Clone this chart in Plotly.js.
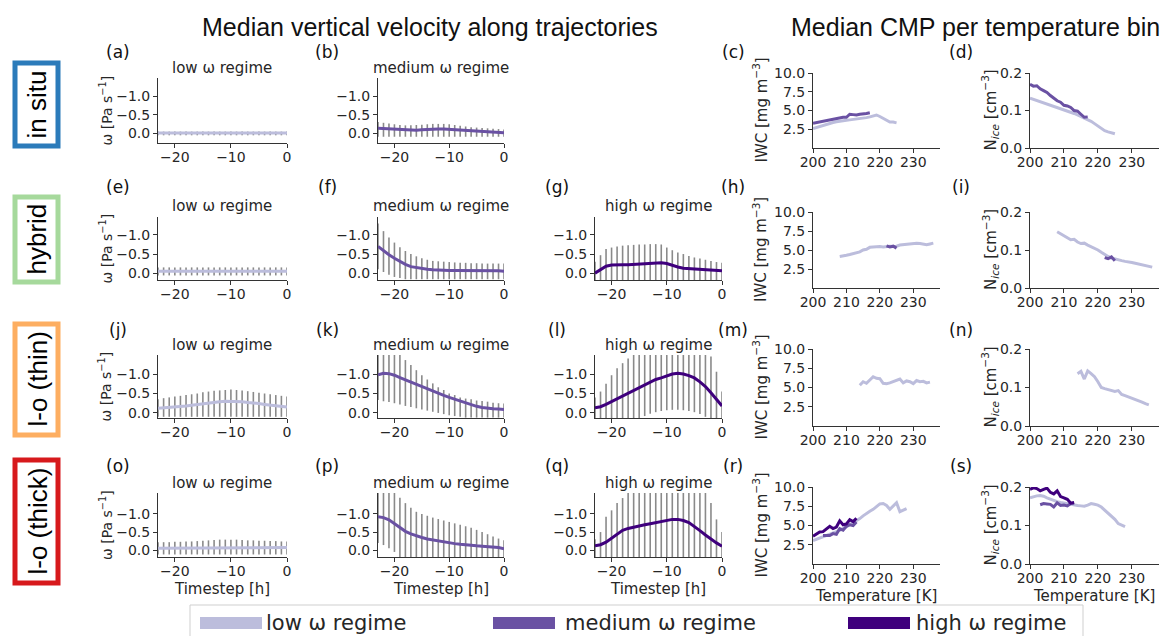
<!DOCTYPE html>
<html><head><meta charset="utf-8">
<script src="https://cdn.plot.ly/plotly-3.0.1.min.js"></script>
<style>html,body{margin:0;padding:0;background:#fff}#chart{width:1168px;height:636px}</style>
</head><body><div id="chart"></div>
<script>
// ---------------- DATA ----------------
const hours = [-23,-22,-21,-20,-19,-18,-17,-16,-15,-14,-13,-12,-11,-10,-9,-8,-7,-6,-5,-4,-3,-2,-1,0];
const regimeNames = ['low ω regime','medium ω regime','high ω regime'];
const rowNames = ['in situ','hybrid','l-o (thin)','l-o (thick)'];

// (a) in situ, low
const insituLowMed = [0,0,0,0,0,0,0,0,0,0,0,0,0,0,0,0,0,0,0,0,0,0,0,0];
const insituLowLo  = [-0.04,-0.04,-0.04,-0.04,-0.04,-0.04,-0.04,-0.04,-0.04,-0.04,-0.04,-0.04,-0.04,-0.04,-0.04,-0.04,-0.04,-0.04,-0.04,-0.04,-0.04,-0.04,-0.04,-0.04];
const insituLowHi  = [0.06,0.06,0.06,0.06,0.06,0.06,0.06,0.06,0.06,0.06,0.06,0.06,0.06,0.06,0.06,0.06,0.06,0.06,0.06,0.06,0.06,0.06,0.06,0.06];
// (b) in situ, medium
const insituMedMed = [-0.13,-0.12,-0.11,-0.10,-0.09,-0.08,-0.08,-0.08,-0.09,-0.10,-0.10,-0.11,-0.11,-0.10,-0.09,-0.08,-0.07,-0.06,-0.05,-0.04,-0.03,-0.02,-0.01,-0.01];
const insituMedLo  = [-0.30,-0.28,-0.26,-0.24,-0.22,-0.21,-0.21,-0.22,-0.23,-0.24,-0.25,-0.25,-0.25,-0.24,-0.22,-0.20,-0.18,-0.16,-0.15,-0.14,-0.13,-0.12,-0.11,-0.10];
const insituMedHi  = [0.10,0.10,0.10,0.10,0.10,0.10,0.10,0.10,0.10,0.10,0.10,0.10,0.10,0.10,0.10,0.10,0.10,0.10,0.10,0.10,0.10,0.10,0.10,0.10];
// (e) hybrid, low
const hybridLowMed = [-0.05,-0.05,-0.05,-0.05,-0.05,-0.05,-0.05,-0.05,-0.05,-0.05,-0.05,-0.05,-0.05,-0.05,-0.05,-0.05,-0.05,-0.05,-0.05,-0.05,-0.05,-0.05,-0.05,-0.05];
const hybridLowLo  = [-0.15,-0.15,-0.15,-0.15,-0.15,-0.15,-0.15,-0.15,-0.15,-0.15,-0.15,-0.15,-0.15,-0.15,-0.15,-0.15,-0.15,-0.15,-0.15,-0.15,-0.15,-0.15,-0.15,-0.15];
const hybridLowHi  = [0.06,0.06,0.06,0.06,0.06,0.06,0.06,0.06,0.06,0.06,0.06,0.06,0.06,0.06,0.06,0.06,0.06,0.06,0.06,0.06,0.06,0.06,0.06,0.06];
// (f) hybrid, medium
const hybridMedMed = [-0.70,-0.58,-0.48,-0.39,-0.30,-0.23,-0.17,-0.14,-0.12,-0.10,-0.09,-0.08,-0.08,-0.07,-0.07,-0.07,-0.06,-0.06,-0.06,-0.06,-0.06,-0.06,-0.06,-0.05];
const hybridMedLo  = [-1.30,-1.10,-0.93,-0.80,-0.68,-0.58,-0.50,-0.44,-0.39,-0.35,-0.32,-0.31,-0.30,-0.29,-0.28,-0.27,-0.27,-0.26,-0.26,-0.25,-0.25,-0.25,-0.25,-0.25];
const hybridMedHi  = [-0.10,-0.03,0.04,0.10,0.13,0.16,0.16,0.16,0.16,0.16,0.16,0.16,0.16,0.16,0.16,0.16,0.16,0.16,0.16,0.16,0.16,0.16,0.16,0.16];
// (g) hybrid, high
const hybridHighMed = [0.0,-0.10,-0.18,-0.21,-0.22,-0.22,-0.22,-0.23,-0.24,-0.25,-0.26,-0.27,-0.27,-0.25,-0.20,-0.16,-0.13,-0.12,-0.11,-0.10,-0.09,-0.08,-0.07,-0.06];
const hybridHighLo  = [-0.30,-0.47,-0.63,-0.67,-0.70,-0.72,-0.73,-0.74,-0.75,-0.75,-0.76,-0.76,-0.75,-0.67,-0.60,-0.54,-0.50,-0.45,-0.41,-0.38,-0.35,-0.32,-0.29,-0.27];
const hybridHighHi  = [0.2,0.2,0.2,0.2,0.2,0.2,0.2,0.2,0.2,0.2,0.2,0.2,0.2,0.2,0.2,0.2,0.2,0.2,0.2,0.2,0.2,0.2,0.2,0.2];
// (j) l-o thin, low
const thinLowMed = [-0.12,-0.13,-0.14,-0.15,-0.16,-0.18,-0.20,-0.22,-0.24,-0.26,-0.27,-0.29,-0.30,-0.30,-0.30,-0.29,-0.27,-0.26,-0.24,-0.22,-0.20,-0.18,-0.16,-0.15];
const thinLowLo  = [-0.35,-0.38,-0.40,-0.42,-0.44,-0.46,-0.48,-0.50,-0.53,-0.55,-0.57,-0.58,-0.59,-0.60,-0.59,-0.58,-0.56,-0.54,-0.52,-0.50,-0.48,-0.46,-0.44,-0.42];
const thinLowHi  = [0.1,0.1,0.1,0.1,0.1,0.1,0.1,0.1,0.1,0.1,0.1,0.1,0.1,0.1,0.1,0.1,0.1,0.1,0.1,0.1,0.1,0.1,0.1,0.1];
// (k) l-o thin, medium
const thinMedMed = [-0.98,-1.02,-1.01,-0.97,-0.91,-0.85,-0.79,-0.73,-0.67,-0.62,-0.56,-0.50,-0.45,-0.40,-0.35,-0.30,-0.25,-0.21,-0.17,-0.14,-0.12,-0.11,-0.10,-0.09];
const thinMedLo  = [-1.7,-1.7,-1.7,-1.7,-1.7,-1.36,-1.23,-1.10,-0.97,-0.86,-0.76,-0.66,-0.59,-0.50,-0.46,-0.40,-0.37,-0.35,-0.32,-0.31,-0.29,-0.26,-0.25,-0.24];
const thinMedHi  = [-0.33,-0.30,-0.28,-0.25,-0.22,-0.18,-0.15,-0.12,-0.09,-0.06,-0.03,0.0,0.03,0.06,0.08,0.10,0.12,0.12,0.12,0.12,0.12,0.12,0.12,0.12];
// (l) l-o thin, high
const thinHighMed = [-0.13,-0.16,-0.22,-0.29,-0.37,-0.44,-0.52,-0.59,-0.66,-0.73,-0.80,-0.86,-0.90,-0.95,-1.00,-1.02,-1.00,-0.96,-0.90,-0.80,-0.68,-0.52,-0.36,-0.18];
const thinHighLo  = [-0.40,-0.55,-0.75,-0.97,-1.15,-1.28,-1.40,-1.7,-1.7,-1.7,-1.7,-1.7,-1.7,-1.7,-1.7,-1.7,-1.7,-1.7,-1.7,-1.7,-1.7,-1.45,-1.06,-0.55];
const thinHighHi  = [0.2,0.2,0.2,0.2,0.2,0.2,0.2,0.2,0.2,0.08,0.02,-0.02,-0.05,-0.07,-0.08,-0.08,-0.07,-0.05,-0.02,0.03,0.10,0.2,0.2,0.2];
// (o) l-o thick, low
const thickLowMed = [-0.05,-0.05,-0.05,-0.05,-0.05,-0.05,-0.05,-0.05,-0.05,-0.06,-0.07,-0.07,-0.07,-0.07,-0.07,-0.07,-0.07,-0.07,-0.07,-0.07,-0.07,-0.07,-0.07,-0.07];
const thickLowLo  = [-0.22,-0.22,-0.22,-0.23,-0.23,-0.24,-0.24,-0.25,-0.26,-0.27,-0.28,-0.29,-0.29,-0.29,-0.29,-0.28,-0.27,-0.27,-0.26,-0.26,-0.25,-0.25,-0.24,-0.24];
const thickLowHi  = [0.12,0.12,0.12,0.12,0.12,0.12,0.12,0.12,0.12,0.12,0.12,0.12,0.12,0.12,0.12,0.12,0.12,0.12,0.12,0.12,0.12,0.12,0.12,0.12];
// (p) l-o thick, medium
const thickMedMed = [-0.92,-0.90,-0.84,-0.74,-0.62,-0.52,-0.45,-0.39,-0.35,-0.31,-0.28,-0.25,-0.22,-0.20,-0.18,-0.16,-0.14,-0.13,-0.12,-0.11,-0.10,-0.09,-0.07,-0.04];
const thickMedLo  = [-1.7,-1.7,-1.7,-1.7,-1.45,-1.30,-1.17,-1.06,-1.00,-0.95,-0.90,-0.86,-0.82,-0.78,-0.74,-0.70,-0.66,-0.62,-0.56,-0.50,-0.44,-0.38,-0.32,-0.27];
const thickMedHi  = [-0.20,-0.14,-0.05,0.05,0.2,0.2,0.2,0.2,0.2,0.2,0.2,0.2,0.2,0.2,0.2,0.2,0.2,0.2,0.2,0.2,0.2,0.2,0.2,0.2];
// (q) l-o thick, high
const thickHighMed = [-0.12,-0.15,-0.22,-0.33,-0.45,-0.55,-0.60,-0.64,-0.67,-0.70,-0.73,-0.76,-0.79,-0.83,-0.85,-0.85,-0.82,-0.76,-0.66,-0.54,-0.42,-0.30,-0.20,-0.11];
const thickHighLo  = [-0.30,-0.50,-0.92,-1.10,-1.30,-1.44,-1.7,-1.7,-1.7,-1.7,-1.7,-1.7,-1.7,-1.7,-1.7,-1.7,-1.7,-1.7,-1.7,-1.7,-1.7,-1.30,-0.85,-0.50];
const thickHighHi  = [0.2,0.2,0.2,0.2,0.2,0.2,0.2,0.2,0.2,0.2,0.2,0.2,0.2,0.2,0.2,0.2,0.2,0.2,0.2,0.2,0.2,0.2,0.2,0.2];

// CMP per temperature bin
const tInsituLow   = [200,201,202,203,204,205,206,207,208,209,210,211,212,213,214,215,216,217,218,219,220,221,222,223,224,225];
const iwcInsituLow = [2.6,2.75,2.9,3.05,3.2,3.3,3.4,3.5,3.6,3.65,3.7,3.75,3.8,3.85,3.9,3.95,4.05,4.15,4.3,4.4,4.2,3.95,3.7,3.45,3.45,3.35];
const niceInsituLow = [0.133,0.13,0.127,0.124,0.121,0.118,0.115,0.112,0.109,0.106,0.103,0.1,0.096,0.092,0.088,0.084,0.08,0.076,0.071,0.065,0.058,0.051,0.046,0.043,0.04,0.038];
const tInsituMed   = [200,201,202,203,204,205,206,207,208,209,210,211,212,213,214,215,216,217];
const iwcInsituMed = [3.3,3.4,3.5,3.6,3.7,3.8,3.85,3.9,4.0,4.1,4.1,4.5,4.45,4.4,4.5,4.5,4.6,4.7];
const niceInsituMed = [0.17,0.165,0.166,0.158,0.153,0.148,0.14,0.133,0.126,0.122,0.114,0.112,0.108,0.1,0.098,0.09,0.082,0.083];

const tHybridLow   = [208,209,210,211,212,213,214,215,216,217,218,219,220,221,222,223,224,225,226,227,228,229,230,231,232,233,234,235,236];
const iwcHybridLow = [4.15,4.2,4.3,4.4,4.5,4.6,4.75,5.0,5.1,5.35,5.4,5.45,5.45,5.4,5.45,5.5,5.45,5.5,5.65,5.7,5.8,5.85,5.9,5.9,5.85,5.75,5.7,5.8,5.9];
const niceHybridLow = [0.148,0.143,0.138,0.132,0.127,0.128,0.121,0.117,0.118,0.113,0.109,0.105,0.1,0.094,0.088,0.083,0.079,0.076,0.074,0.072,0.07,0.069,0.067,0.065,0.063,0.061,0.059,0.057,0.055];
const tHybridMed   = [222,223,224,225];
const iwcHybridMed = [5.55,5.4,5.5,5.25];
const niceHybridMed = [0.08,0.077,0.082,0.072];

const tThinLow   = [214,215,216,217,218,219,220,221,222,223,224,225,226,227,228,229,230,231,232,233,234,235];
const iwcThinLow = [5.3,5.75,5.55,6.0,6.4,6.2,6.15,5.55,5.5,5.6,5.75,5.9,6.1,5.6,5.85,5.75,5.5,5.9,5.75,5.8,5.6,5.7];
const niceThinLow = [0.136,0.142,0.122,0.143,0.136,0.128,0.115,0.1,0.097,0.095,0.092,0.09,0.092,0.082,0.079,0.076,0.071,0.068,0.066,0.062,0.058,0.055];

const tThickLow   = [200,201,202,203,204,205,206,207,208,209,210,211,212,213,214,215,216,217,218,219,220,221,222,223,224,225,226,227,228];
const iwcThickLow = [3.05,3.2,3.4,3.55,3.7,3.85,3.97,4.15,4.35,4.6,4.85,5.1,5.35,5.6,5.9,6.25,6.6,6.85,7.1,7.45,7.8,7.85,7.6,7.1,7.5,7.95,6.8,7.0,7.2];
const niceThickLow = [0.172,0.175,0.177,0.178,0.176,0.172,0.168,0.165,0.162,0.16,0.158,0.156,0.154,0.153,0.152,0.151,0.15,0.153,0.157,0.155,0.153,0.148,0.14,0.133,0.124,0.116,0.105,0.1,0.097];
const tThickMed   = [203,204,205,206,207,208,209,210,211,212,213];
const iwcThickMed = [3.7,3.7,3.7,3.95,3.85,4.6,4.4,4.9,5.1,5.0,5.45];
const niceThickMed = [0.154,0.157,0.156,0.155,0.148,0.159,0.152,0.153,0.151,0.157,0.158];
const tThickHigh   = [200,201,202,203,204,205,206,207,208,209,210,211,212,213];
const iwcThickHigh = [3.6,3.9,4.15,4.2,4.5,4.9,4.6,4.8,5.6,5.1,5.2,5.75,5.5,5.95];
const niceThickHigh = [0.194,0.198,0.196,0.19,0.194,0.197,0.186,0.182,0.19,0.175,0.172,0.168,0.158,0.16];

const omegaTicks = [-1, -0.5, 0];
const timeTicks = [-20, -10, 0];
const tempTicks = [200, 210, 220, 230];
const iwcTicks = [2.5, 5, 7.5, 10];
const niceTicks = [0, 0.1, 0.2];

// ---------------- STYLE / LAYOUT ----------------
const W = 1168, H = 636;
const colors = ['#bcbddc', '#6a51a3', '#3f007d'];
const errColor = '#8a8a8a';
const colX = [[158,287],[378,504],[595,722],[813,940],[1030,1159]];
const omegaRowY = [[78,143],[217,280],[355,418],[493,557]];
const cmpRowY = [[73,148],[212,288],[349,426],[487,564]];
const omegaRange = [[0.27,-1.5],[0.18,-1.47],[0.13,-1.49],[0.19,-1.58]];

const traces = [];
const layout = {
  width: W, height: H, margin: {l:0, r:0, t:0, b:0},
  paper_bgcolor: '#ffffff', plot_bgcolor: '#ffffff',
  showlegend: false, hovermode: false,
  annotations: [], shapes: []
};
const tickFont = {family: 'DejaVu Sans', size: 14, color: '#262626'};
const axBase = {showline: true, linecolor: '#333', linewidth: 1, ticks: 'outside', ticklen: 4,
  tickwidth: 1, tickcolor: '#333', showgrid: false, zeroline: false, tickfont: tickFont, fixedrange: true};

let nAx = 0;
function newAxes(col, rowBox, xopts, yopts) {
  nAx++;
  const s = nAx === 1 ? '' : String(nAx);
  layout['xaxis' + s] = Object.assign({}, axBase, {domain: [colX[col][0]/W, colX[col][1]/W], anchor: 'y' + s, ticklabelstandoff: -3}, xopts);
  layout['yaxis' + s] = Object.assign({}, axBase, {domain: [1 - rowBox[1]/H, 1 - rowBox[0]/H], anchor: 'x' + s}, yopts);
  return {x: 'x' + s, y: 'y' + s};
}

function omegaPanel(row, col, regime, med, lo, hi) {
  const ax = newAxes(col, omegaRowY[row],
    {range: [-23, 0], tickmode: 'array', tickvals: timeTicks},
    {range: omegaRange[row], tickmode: 'array', tickvals: omegaTicks, tickformat: '.1f'});
  traces.push({type: 'scatter', mode: 'markers', x: hours, y: med, xaxis: ax.x, yaxis: ax.y,
    marker: {size: 1, opacity: 0},
    error_y: {type: 'data', symmetric: false,
      array: hi.map((v, i) => v - med[i]), arrayminus: med.map((v, i) => v - lo[i]),
      color: errColor, thickness: 1.6, width: 0}});
  traces.push({type: 'scatter', mode: 'lines', x: hours, y: med, xaxis: ax.x, yaxis: ax.y,
    line: {color: colors[regime], width: 3}, name: regimeNames[regime]});
}

function cmpPanel(row, col, series, yr, yt) {
  const ax = newAxes(col, cmpRowY[row],
    {range: [200, 238], tickmode: 'array', tickvals: tempTicks},
    {range: yr, tickmode: 'array', tickvals: yt, tickformat: '.1f'});
  series.forEach(s => traces.push({type: 'scatter', mode: 'lines', x: s[0], y: s[1], xaxis: ax.x, yaxis: ax.y,
    line: {color: colors[s[2]], width: 3}, name: regimeNames[s[2]]}));
}

// Row 1: in situ
omegaPanel(0, 0, 0, insituLowMed, insituLowLo, insituLowHi);
omegaPanel(0, 1, 1, insituMedMed, insituMedLo, insituMedHi);
cmpPanel(0, 3, [[tInsituLow, iwcInsituLow, 0], [tInsituMed, iwcInsituMed, 1]], [0, 10], iwcTicks);
cmpPanel(0, 4, [[tInsituLow, niceInsituLow, 0], [tInsituMed, niceInsituMed, 1]], [0, 0.2], niceTicks);
// Row 2: hybrid
omegaPanel(1, 0, 0, hybridLowMed, hybridLowLo, hybridLowHi);
omegaPanel(1, 1, 1, hybridMedMed, hybridMedLo, hybridMedHi);
omegaPanel(1, 2, 2, hybridHighMed, hybridHighLo, hybridHighHi);
cmpPanel(1, 3, [[tHybridLow, iwcHybridLow, 0], [tHybridMed, iwcHybridMed, 1]], [0, 10], iwcTicks);
cmpPanel(1, 4, [[tHybridLow, niceHybridLow, 0], [tHybridMed, niceHybridMed, 1]], [0, 0.2], niceTicks);
// Row 3: l-o thin
omegaPanel(2, 0, 0, thinLowMed, thinLowLo, thinLowHi);
omegaPanel(2, 1, 1, thinMedMed, thinMedLo, thinMedHi);
omegaPanel(2, 2, 2, thinHighMed, thinHighLo, thinHighHi);
cmpPanel(2, 3, [[tThinLow, iwcThinLow, 0]], [0, 10], iwcTicks);
cmpPanel(2, 4, [[tThinLow, niceThinLow, 0]], [0, 0.2], niceTicks);
// Row 4: l-o thick
omegaPanel(3, 0, 0, thickLowMed, thickLowLo, thickLowHi);
omegaPanel(3, 1, 1, thickMedMed, thickMedLo, thickMedHi);
omegaPanel(3, 2, 2, thickHighMed, thickHighLo, thickHighHi);
cmpPanel(3, 3, [[tThickLow, iwcThickLow, 0], [tThickMed, iwcThickMed, 1], [tThickHigh, iwcThickHigh, 2]], [0, 10], iwcTicks);
cmpPanel(3, 4, [[tThickLow, niceThickLow, 0], [tThickMed, niceThickMed, 1], [tThickHigh, niceThickHigh, 2]], [0, 0.2], niceTicks);

// ---------------- TEXT ----------------
function ann(text, x, y, size, extra) {
  layout.annotations.push(Object.assign({text: text, x: x/W, y: 1 - y/H, xref: 'paper', yref: 'paper',
    showarrow: false, xanchor: 'center', yanchor: 'middle',
    font: {family: 'DejaVu Sans', size: size, color: '#262626'}}, extra || {}));
}
const arial = c => ({family: 'Liberation Sans, Arial, sans-serif', size: c, color: '#111'});
ann('Median vertical velocity along trajectories', 430, 27, 25, {font: arial(25)});
ann('Median CMP per temperature bin', 975, 27, 25, {font: arial(25)});

const letterX = [118, 327, 557, 733, 961];
const letterY = [52, 187, 330, 466];
const letters = [['(a)','(b)',null,'(c)','(d)'],['(e)','(f)','(g)','(h)','(i)'],['(j)','(k)','(l)','(m)','(n)'],['(o)','(p)','(q)','(r)','(s)']];
letters.forEach((r, ri) => r.forEach((t, ci) => { if (t) ann(t, letterX[ci], letterY[ri], 17, {font: {family: 'DejaVu Sans', size: 17, color: '#111'}}); }));

const titleY = [68, 206, 345, 483];
const colCenters = [222, 441, 658];
titleY.forEach((y, ri) => { [0,1,2].forEach(ci => { if (ri === 0 && ci === 2) return; ann(regimeNames[ci], colCenters[ci], y, 15); }); });

const omegaMid = omegaRowY.map(r => (r[0] + r[1]) / 2);
const cmpMid = cmpRowY.map(r => (r[0] + r[1]) / 2);
omegaMid.forEach(y => ann('ω [Pa s<sup>−1</sup>]', 106, y, 14, {textangle: -90}));
cmpMid.forEach(y => ann('IWC [mg m<sup>−3</sup>]', 760, y, 15, {textangle: -90}));
cmpMid.forEach(y => ann('N<sub><i>ice</i></sub> [cm<sup>−3</sup>]', 990, y, 15, {textangle: -90}));

colCenters.forEach(x => ann('Timestep [h]', x, 589, 15));
ann('Temperature [K]', 876, 596, 15);
ann('Temperature [K]', 1094, 596, 15);

// Row label boxes
const boxY = [[63,146],[197,282],[324,435],[460,583]];
const boxColors = ['#2b7bba', '#a6d99c', '#fdae61', '#d7191c'];
boxY.forEach((b, i) => {
  layout.shapes.push({type: 'rect', xref: 'paper', yref: 'paper', x0: 15/W, x1: 58/W, y0: 1 - b[1]/H, y1: 1 - b[0]/H,
    line: {color: boxColors[i], width: 5}, fillcolor: 'rgba(0,0,0,0)'});
  ann(rowNames[i], 37, (b[0] + b[1]) / 2, 26, {textangle: -90, font: {family: 'Liberation Sans, Arial, sans-serif', size: 26, color: '#000'}});
});

// Legend (drawn manually)
layout.shapes.push({type: 'rect', xref: 'paper', yref: 'paper', x0: 190/W, x1: 1083/W, y0: 1 - 645/H, y1: 1 - 605/H,
  line: {color: '#cfcfcf', width: 1}, fillcolor: '#ffffff', layer: 'above'});
const legSw = [[200, 262, 264], [493, 555, 563], [848, 910, 914]];
legSw.forEach((s, i) => {
  layout.shapes.push({type: 'rect', xref: 'paper', yref: 'paper', x0: s[0]/W, x1: s[1]/W, y0: 1 - 629/H, y1: 1 - 617/H,
    line: {width: 0}, fillcolor: colors[i], layer: 'above'});
  ann(regimeNames[i], s[2], 623, 21, {xanchor: 'left'});
});

Plotly.newPlot('chart', traces, layout, {staticPlot: true, displayModeBar: false});
</script></body></html>
